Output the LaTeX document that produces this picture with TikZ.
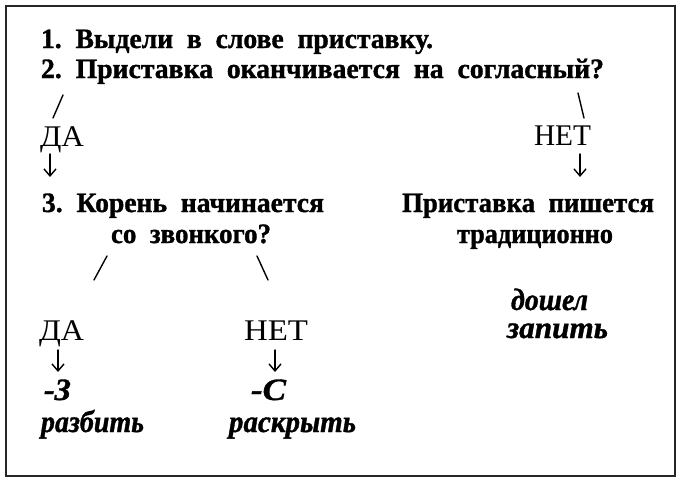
\documentclass[tikz,border=0pt]{standalone}
\usepackage{fontspec}
\setmainfont{Liberation Serif}[BoldFeatures={FakeBold=1.2},BoldItalicFeatures={FakeBold=1.2}]
\usetikzlibrary{arrows.meta}
\newcommand{\fitto}[2]{\resizebox{#1}{\height}{#2}}
\begin{document}
\begin{tikzpicture}[x=1pt,y=-1pt,
  txt/.style={anchor=base west,inner sep=0pt,outer sep=0pt},
  bold/.style={txt,font=\bfseries\fontsize{28}{32}\selectfont},
  yesno/.style={txt,font=\fontsize{30}{34}\selectfont},
  ex/.style={txt,font=\bfseries\itshape\fontsize{31}{36}\selectfont},
  conn/.style={line width=1.4pt,line cap=round},
  darr/.style={conn,-{Straight Barb[length=7pt,width=12pt,line width=1.4pt]}},
  frame/.style={line width=1.6pt,draw=black!85}]
\useasboundingbox (0,0) rectangle (680,480);
\draw[frame] (6,6) rectangle (675,476);
% texts
\node[bold] (q1) at (41,48) {\fitto{392pt}{1.\ \ Выдели\ \ в\ \ слове\ \ приставку.}};
\node[bold] (q2) at (41,78) {\fitto{563pt}{2.\ \ Приставка\ \ оканчивается\ \ на\ \ согласный?}};
\node[yesno] (da1) at (40,146) {\fitto{44pt}{ДА}};
\node[yesno] (net1) at (534,145) {\fitto{57pt}{НЕТ}};
\node[bold] (q3a) at (42,212) {\fitto{282pt}{3.\ \ Корень\ \ начинается}};
\node[bold] (q3b) at (111,243) {\fitto{160pt}{со\ \ звонкого?}};
\node[bold] (r1a) at (402,212) {\fitto{252pt}{Приставка\ \ пишется}};
\node[bold] (r1b) at (457,243) {\fitto{156pt}{традиционно}};
\node[ex] (ex1) at (511,310) {\fitto{77pt}{дошел}};
\node[ex] (ex2) at (507,338) {\fitto{101pt}{запить}};
\node[yesno] (da2) at (39,340) {\fitto{45pt}{ДА}};
\node[yesno] (net2) at (244,340) {\fitto{64pt}{НЕТ}};
\node[ex] (z) at (44,400) {\fitto{27pt}{-З}};
\node[ex] (s) at (251,400) {\fitto{35pt}{-С}};
\node[ex] (w1) at (41,432) {\fitto{103pt}{разбить}};
\node[ex] (w2) at (229,432) {\fitto{127pt}{раскрыть}};
% connector ends
\coordinate (s1a) at (63,95);  \coordinate (s1b) at (53,118);
\coordinate (s2a) at (578,93); \coordinate (s2b) at (584,118);
\coordinate (s3a) at (107,256); \coordinate (s3b) at (94,280);
\coordinate (s4a) at (257,256); \coordinate (s4b) at (268,280);
\coordinate (a1a) at (50,154); \coordinate (a1b) at (50,177);
\coordinate (a2a) at (580,154); \coordinate (a2b) at (580,177);
\coordinate (a3a) at (58,350); \coordinate (a3b) at (58,372);
\coordinate (a4a) at (275,350); \coordinate (a4b) at (275,372);
\draw[conn] (s1a) -- (s1b);
\draw[conn] (s2a) -- (s2b);
\draw[conn] (s3a) -- (s3b);
\draw[conn] (s4a) -- (s4b);
\draw[darr] (a1a) -- (a1b);
\draw[darr] (a2a) -- (a2b);
\draw[darr] (a3a) -- (a3b);
\draw[darr] (a4a) -- (a4b);
\end{tikzpicture}
\end{document}
